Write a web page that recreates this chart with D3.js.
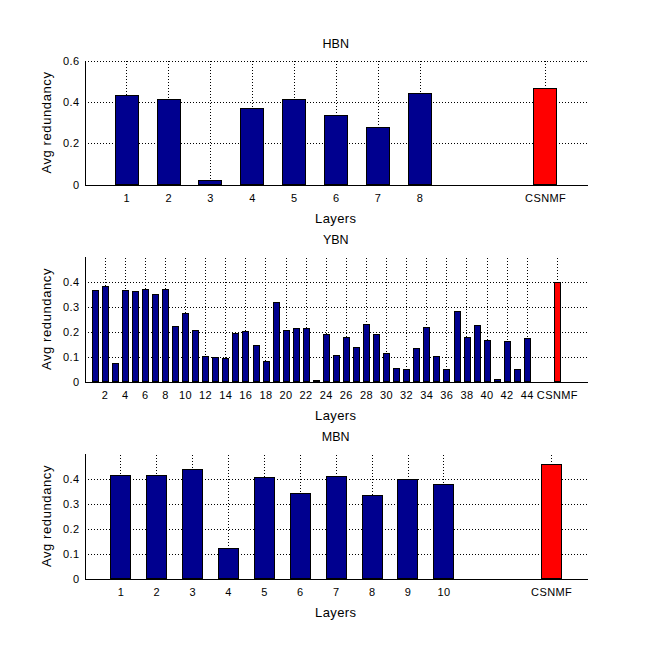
<!DOCTYPE html>
<html>
<head>
<meta charset="utf-8">
<script src="https://cdn.jsdelivr.net/npm/d3@7"></script>
<style>
  body { margin: 0; background: #fff; }
  svg { display: block; font-family: "Liberation Sans", Arial, sans-serif; }
</style>
</head>
<body>
<svg id="chart" width="649" height="657"></svg>
<script>
// values
const hbnLayers = [1, 2, 3, 4, 5, 6, 7, 8];
const hbnValues = [0.430, 0.411, 0.019, 0.368, 0.411, 0.334, 0.277, 0.439];
const hbnCsnmf = 0.463;
const hbnYTicks = [0, 0.2, 0.4, 0.6];

const ybnLayers = d3.range(1, 45);
const ybnValues = [0.364, 0.381, 0.074, 0.364, 0.360, 0.368, 0.350, 0.368, 0.221, 0.274,
                   0.205, 0.102, 0.098, 0.094, 0.193, 0.199, 0.146, 0.079, 0.317, 0.205,
                   0.213, 0.213, 0.003, 0.189, 0.106, 0.177, 0.138, 0.229, 0.189, 0.114,
                   0.054, 0.050, 0.134, 0.217, 0.102, 0.050, 0.281, 0.177, 0.225, 0.166,
                   0.007, 0.162, 0.050, 0.174];
const ybnCsnmf = 0.396;
const ybnXTicks = [2, 4, 6, 8, 10, 12, 14, 16, 18, 20, 22, 24, 26, 28, 30, 32, 34, 36, 38, 40, 42, 44];
const ybnYTicks = [0, 0.1, 0.2, 0.3, 0.4];

const mbnLayers = [1, 2, 3, 4, 5, 6, 7, 8, 9, 10];
const mbnValues = [0.413, 0.413, 0.436, 0.119, 0.404, 0.341, 0.408, 0.333, 0.396, 0.376];
const mbnCsnmf = 0.455;
const mbnYTicks = [0, 0.1, 0.2, 0.3, 0.4];

const csnmfLabel = "CSNMF";

let panels = [
    { title: "HBN", layers: hbnLayers, values: hbnValues, csnmf: hbnCsnmf, xTicks: hbnLayers,
      yTicks: hbnYTicks, xMax: 12, yMax: 0.6, top: 60.5, bottom: 184.5 },
    { title: "YBN", layers: ybnLayers, values: ybnValues, csnmf: ybnCsnmf, xTicks: ybnXTicks,
      yTicks: ybnYTicks, xMax: 50, yMax: 0.5, top: 256.5, bottom: 381.5 },
    { title: "MBN", layers: mbnLayers, values: mbnValues, csnmf: mbnCsnmf, xTicks: mbnLayers,
      yTicks: mbnYTicks, xMax: 14, yMax: 0.5, top: 453.5, bottom: 578.5 }
];

let svg = d3.select("#chart");
let left = 84.5, right = 587;
let barWidth = 0.56;

panels.forEach(function(p) {
    // CSNMF sits three slots after the last layer
    let csnmfPos = p.layers.length + 3;
    let bars = p.layers.map((l, i) => ({ pos: l, value: p.values[i], fill: "#00008f" }));
    bars.push({ pos: csnmfPos, value: p.csnmf, fill: "#ff0000" });
    let tickPos = p.xTicks.concat([csnmfPos]);

    let xScale = d3.scaleLinear().domain([0, p.xMax]).range([left, right]);
    let yScale = d3.scaleLinear().domain([0, p.yMax]).range([p.bottom, p.top]);

    let g = svg.append("g");

    // dotted grid behind the bars
    g.append("g")
        .attr("transform", "translate(0," + p.bottom + ")")
        .call(d3.axisBottom(xScale).tickValues(tickPos).tickSize(-(p.bottom - p.top)).tickFormat(""))
        .call(a => a.select(".domain").remove())
        .selectAll("line")
          .attr("stroke", "#000")
          .attr("stroke-dasharray", "1,2")
          .attr("shape-rendering", "crispEdges");
    g.append("g")
        .attr("transform", "translate(" + left + ",0)")
        .call(d3.axisLeft(yScale).tickValues(p.yTicks.filter(v => v > 0)).tickSize(-(right - left)).tickFormat(""))
        .call(a => a.select(".domain").remove())
        .selectAll("line")
          .attr("stroke", "#000")
          .attr("stroke-dasharray", "1,2")
          .attr("shape-rendering", "crispEdges");

    g.selectAll(".bar")
        .data(bars)
        .enter()
        .append("rect")
          .classed("bar", true)
          .attr("x", d => Math.round(xScale(d.pos - barWidth / 2)) + 0.5)
          .attr("width", d => Math.round(xScale(barWidth) - xScale(0)))
          .attr("y", d => yScale(d.value))
          .attr("height", d => Math.max(0, p.bottom - yScale(d.value)))
          .attr("fill", d => d.fill)
          .attr("stroke", "#000")
          .attr("stroke-width", 1)
          .attr("shape-rendering", "crispEdges");

    // axes
    let xAxis = d3.axisBottom(xScale)
                  .tickValues(tickPos)
                  .tickFormat(d => d === csnmfPos ? csnmfLabel : d)
                  .tickSize(0)
                  .tickPadding(9.5);
    g.append("g")
        .attr("transform", "translate(0," + p.bottom + ")")
        .call(xAxis)
        .call(a => a.select(".domain").attr("stroke", "#000").attr("shape-rendering", "crispEdges"))
        .selectAll("text")
          .attr("font-size", "11px")
          .attr("letter-spacing", "0.4px")
          .attr("font-family", "Liberation Sans, Arial, sans-serif")
          .attr("fill", "#000");

    let yAxis = d3.axisLeft(yScale)
                  .tickValues(p.yTicks)
                  .tickFormat(d => String(d))
                  .tickSize(0)
                  .tickPadding(5);
    g.append("g")
        .attr("transform", "translate(" + left + ",0)")
        .call(yAxis)
        .call(a => a.select(".domain").attr("stroke", "#000").attr("shape-rendering", "crispEdges"))
        .selectAll("text")
          .attr("font-size", "11px")
          .attr("letter-spacing", "0.4px")
          .attr("font-family", "Liberation Sans, Arial, sans-serif")
          .attr("fill", "#000");

    g.append("text")
        .attr("x", (left + right) / 2)
        .attr("y", p.top - 12.5)
        .style("text-anchor", "middle")
        .attr("font-size", "12.5px")
        .text(p.title);

    g.append("text")
        .attr("x", (left + right) / 2)
        .attr("y", p.bottom + 38)
        .style("text-anchor", "middle")
        .attr("font-size", "13px")
        .attr("letter-spacing", "0.4px")
        .text("Layers");

    g.append("text")
        .attr("transform", "translate(51," + (p.top + p.bottom) / 2 + ") rotate(-90)")
        .style("text-anchor", "middle")
        .attr("font-size", "13px")
        .attr("letter-spacing", "0.6px")
        .text("Avg redundancy");
});
</script>
</body>
</html>
